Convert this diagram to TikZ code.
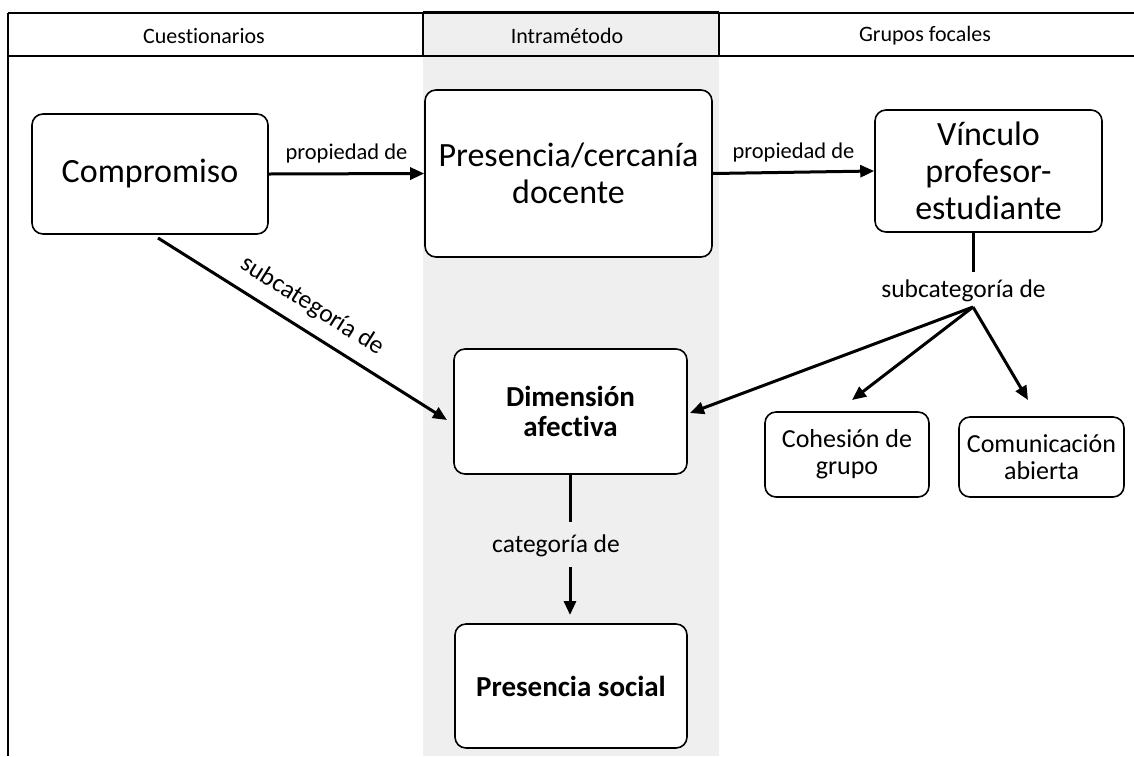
\documentclass[tikz,border=0pt]{standalone}
\usepackage{fontspec}
\setmainfont{Carlito}[Ligatures={NoCommon,NoContextual}]
\usetikzlibrary{arrows.meta}
\definecolor{colgray}{HTML}{EFEFEF}
\tikzset{
  box/.style={draw=black, line width=1.6pt, rounded corners=11pt, fill=white,
    align=center, inner sep=0pt},
  bigbox/.style={box, font=\fontsize{34}{37}\selectfont},
  boldbox/.style={box, font=\fontsize{29}{30}\selectfont\bfseries},
  smallbox/.style={box, font=\fontsize{26}{27}\selectfont},
  conn/.style={line width=3pt, -{Triangle[length=14pt,width=12pt]}},
  bar/.style={line width=3pt},
  rule/.style={line width=2pt},
  hdr/.style={font=\fontsize{22}{26}\selectfont, inner sep=0pt},
  lbl/.style={font=\fontsize{22.5}{26}\selectfont, inner sep=0pt},
  lblbig/.style={font=\fontsize{25.5}{28}\selectfont, inner sep=0pt}
}
\begin{document}
\begin{tikzpicture}[x=1pt,y=-1pt]
\useasboundingbox (0,0) rectangle (1134,756);

% shaded middle column
\fill[colgray] (423,13) rectangle (719,756);

% header rules
\draw[rule] (8,13) -- (1134,13);
\draw[rule] (8,56) -- (1134,56);
\draw[rule] (8,13) -- (8,756);
\draw[rule] (423,12) -- (423,56);
\draw[rule] (719,12) -- (719,56);
\draw[rule] (423,12) -- (719,12);

\node[hdr] (h1) at (204,36) {Cuestionarios};
\node[hdr] (h2) at (567,36) {Intramétodo};
\node[hdr] (h3) at (925,36) {Grupos focales};

% boxes
\node[bigbox, minimum width=236pt, minimum height=120pt] (comp) at (150,174) {Compromiso};
\node[bigbox, minimum width=287pt, minimum height=167pt] (pres) at (568.5,173.5) {Presencia/cercanía\\docente};
\node[bigbox, minimum width=227pt, minimum height=122pt] (vinc) at (988.5,171) {Vínculo\\profesor-\\estudiante};
\node[boldbox, minimum width=233pt, minimum height=125pt] (dim) at (570.5,411.5) {Dimensión\\afectiva};
\node[boldbox, minimum width=232pt, minimum height=124pt] (soc) at (571,686) {Presencia social};
\node[smallbox, minimum width=164pt, minimum height=85pt] (cohe) at (847,454.5) {Cohesión de\\grupo};
\node[smallbox, minimum width=165pt, minimum height=80pt] (comu) at (1041.5,457) {Comunicación\\abierta};

% horizontal property links
\draw[conn] (comp.east) -- node[lbl, above=9pt] {propiedad de} (pres.west);
\draw[conn] (pres.east) -- node[lbl, above=9pt] {propiedad de} (vinc.west);

% diagonal subcategory link
\coordinate (d1) at (158,238);
\coordinate (d2) at (447,420);
\draw[conn] (d1) -- node[lblbig, sloped, above=12pt, xshift=-4pt] {subcategoría de} (d2);

% subcategory fan from the right box
\coordinate (v1) at (973,233);
\coordinate (v2) at (973,272);
\coordinate (apex) at (973,307);
\coordinate (tdim) at (690,413);
\coordinate (tcohe) at (852,400);
\coordinate (tcomu) at (1028,400);
\draw[bar] (v1) -- (v2);
\node[lblbig] (sub) at (963.5,291) {subcategoría de};
\draw[conn] (apex) -- (tdim);
\draw[conn] (apex) -- (tcohe);
\draw[conn] (apex) -- (tcomu);

% category link
\coordinate (c1) at (570,475);
\coordinate (c2) at (570,522);
\coordinate (c3) at (570,567);
\coordinate (c4) at (570,615);
\draw[bar] (c1) -- (c2);
\node[lblbig] (cat) at (556,546) {categoría de};
\draw[conn] (c3) -- (c4);
\end{tikzpicture}
\end{document}
